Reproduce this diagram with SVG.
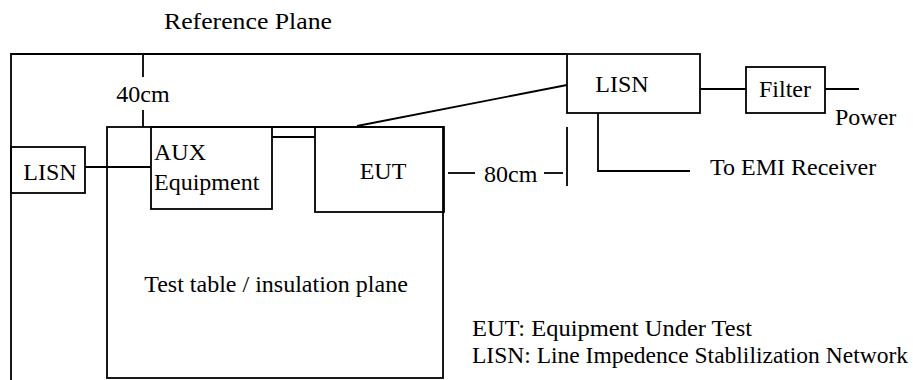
<svg xmlns="http://www.w3.org/2000/svg" width="913" height="380" viewBox="0 0 913 380">
<style>
.b{fill:none;stroke:#000;stroke-width:1.8}
.l{stroke:#000;stroke-width:1.8;fill:none}
.t{font-family:"Liberation Serif","DejaVu Serif",serif;font-size:24px;fill:#000}
</style>
<rect width="913" height="380" fill="#fff"/>
<text class="t" x="164" y="29" textLength="168" lengthAdjust="spacingAndGlyphs">Reference Plane</text>
<g id="referencePlane">
<polyline class="l" points="11,380 11,54 567,54"/>
</g>
<g id="table">
<rect class="b" x="107" y="127" width="336" height="251"/>
<text class="t" x="276" y="292" text-anchor="middle">Test table / insulation plane</text>
</g>
<g id="lisnLeft">
<rect class="b" x="11" y="147" width="74" height="46"/>
<text class="t" x="50" y="180" text-anchor="middle">LISN</text>
</g>
<g id="aux">
<rect class="b" x="151" y="127" width="121" height="82"/>
<text class="t" x="154" y="160">AUX</text>
<text class="t" x="154" y="190">Equipment</text>
</g>
<g id="eut">
<rect class="b" x="315" y="127" width="129" height="85"/>
<text class="t" x="383" y="179" text-anchor="middle">EUT</text>
</g>
<g id="lisnRight">
<rect class="b" x="567" y="54" width="133" height="59"/>
<text class="t" x="622" y="92" text-anchor="middle">LISN</text>
</g>
<g id="filter">
<rect class="b" x="746" y="67" width="79" height="46"/>
<text class="t" x="785" y="97" text-anchor="middle">Filter</text>
</g>
<g id="connectors">
<line class="l" x1="143" y1="54" x2="143" y2="77"/>
<line class="l" x1="143" y1="110" x2="143" y2="127"/>
<line class="l" x1="85" y1="167" x2="151" y2="167"/>
<line class="l" x1="272" y1="127" x2="315" y2="127"/>
<line class="l" x1="272" y1="137" x2="315" y2="137"/>
<line class="l" x1="357" y1="126" x2="567" y2="85"/>
<polyline class="l" points="598,113 598,171 690,171"/>
<line class="l" x1="700" y1="89" x2="746" y2="89"/>
<line class="l" x1="825" y1="89" x2="859" y2="89"/>
<line class="l" x1="448" y1="173" x2="475" y2="173"/>
<line class="l" x1="544" y1="173" x2="563" y2="173"/>
<line class="l" x1="567" y1="127" x2="567" y2="186"/>
</g>
<text class="t" x="143" y="102" text-anchor="middle">40cm</text>
<text class="t" x="484" y="182">80cm</text>
<text class="t" x="710" y="175">To EMI Receiver</text>
<text class="t" x="835" y="125">Power</text>
<text class="t" x="472" y="336" textLength="280" lengthAdjust="spacingAndGlyphs">EUT: Equipment Under Test</text>
<text class="t" x="472" y="363" style="font-size:23px" textLength="436" lengthAdjust="spacingAndGlyphs">LISN: Line Impedence Stablilization Network</text>
</svg>
